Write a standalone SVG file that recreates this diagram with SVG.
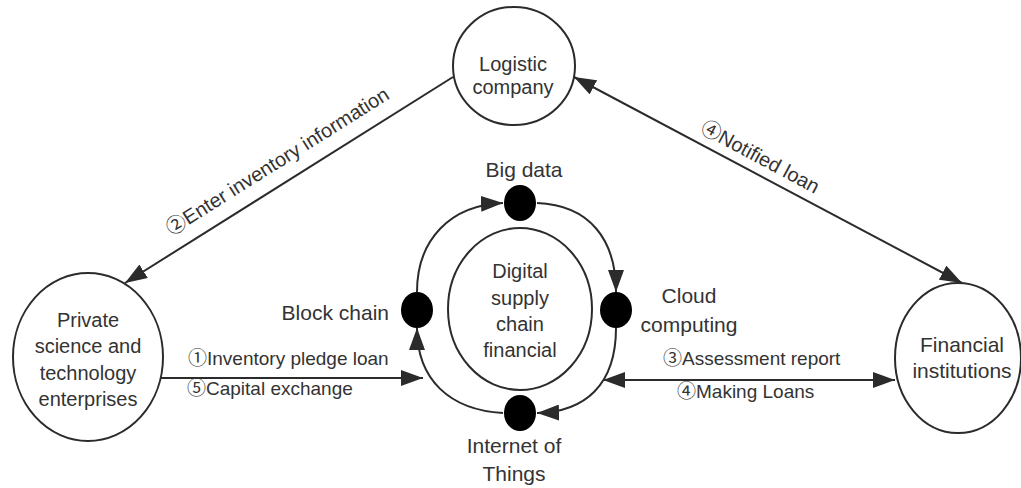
<svg xmlns="http://www.w3.org/2000/svg" width="1021" height="488" viewBox="0 0 1021 488">
<style>
.node{fill:#fff;stroke:#2b2b2b;stroke-width:2}
.dot{fill:#000}
.edge{fill:none;stroke:#2b2b2b;stroke-width:2}
text{font-family:"Liberation Sans","Noto Sans CJK SC",sans-serif;fill:#333}
.nl{font-size:20px;text-anchor:middle}
.tl{font-size:21px}
.el{font-size:19px}
.rl{font-size:20px;text-anchor:middle}
</style>
<defs>
<marker id="ah" viewBox="0 0 22 16" refX="22" refY="8" markerWidth="22" markerHeight="16" markerUnits="userSpaceOnUse" orient="auto-start-reverse">
<path d="M0,0 L22,8 L0,16 z" fill="#2b2b2b"/>
</marker>
</defs>
<rect width="1021" height="488" fill="#fff"/>
<g id="connectors">
<line class="edge" x1="453" y1="77" x2="125" y2="283" marker-end="url(#ah)"/>
<line class="edge" x1="574" y1="77" x2="962" y2="283" marker-start="url(#ah)" marker-end="url(#ah)"/>
<line class="edge" x1="161" y1="378" x2="423" y2="378" marker-end="url(#ah)"/>
<line class="edge" x1="603" y1="380" x2="895" y2="380" marker-start="url(#ah)" marker-end="url(#ah)"/>
<path class="edge" d="M417,292 C417,240 450,205 503,203" marker-end="url(#ah)"/>
<path class="edge" d="M537,203 C590,205 616,240 616,292" marker-end="url(#ah)"/>
<path class="edge" d="M616,328 C616,385 585,412 537,413" marker-end="url(#ah)"/>
<path class="edge" d="M503,413 C450,410 417,380 417,328" marker-end="url(#ah)"/>
<text class="rl" transform="translate(281,167) rotate(-32.2)">②Enter inventory information</text>
<text class="rl" transform="translate(757,163) rotate(28.15)">④Notified loan</text>
<text class="el" x="188" y="365">①Inventory pledge loan</text>
<text class="el" x="187" y="395">⑤Capital exchange</text>
<text class="el" x="663" y="365">③Assessment report</text>
<text class="el" x="677" y="398">④Making Loans</text>
</g>
<g id="logistic">
<ellipse class="node" cx="514" cy="66" rx="61" ry="59"/>
<text class="nl" x="513" y="71">Logistic</text>
<text class="nl" x="513" y="94">company</text>
</g>
<g id="enterprises">
<ellipse class="node" cx="88" cy="357" rx="75" ry="84"/>
<text class="nl" x="88" y="327">Private</text>
<text class="nl" x="88" y="353">science and</text>
<text class="nl" x="88" y="380">technology</text>
<text class="nl" x="88" y="406">enterprises</text>
</g>
<g id="financial">
<ellipse class="node" cx="958" cy="358" rx="63" ry="75"/>
<text class="nl" x="962" y="352" style="font-size:21px">Financial</text>
<text class="nl" x="962" y="378" style="font-size:21px">institutions</text>
</g>
<g id="core">
<ellipse class="node" cx="520" cy="309" rx="72" ry="81"/>
<text class="nl" x="520" y="278">Digital</text>
<text class="nl" x="520" y="305">supply</text>
<text class="nl" x="520" y="331">chain</text>
<text class="nl" x="520" y="357">financial</text>
</g>
<g id="bigdata">
<ellipse class="dot" cx="520" cy="203" rx="16" ry="18"/>
<text class="tl" x="524" y="177" text-anchor="middle">Big data</text>
</g>
<g id="cloud">
<ellipse class="dot" cx="616" cy="310" rx="16" ry="18"/>
<text class="tl" x="689" y="303" text-anchor="middle">Cloud</text>
<text class="tl" x="689" y="332" text-anchor="middle">computing</text>
</g>
<g id="iot">
<ellipse class="dot" cx="520" cy="413" rx="16" ry="18"/>
<text class="tl" x="514" y="453" text-anchor="middle">Internet of</text>
<text class="tl" x="514" y="481" text-anchor="middle">Things</text>
</g>
<g id="blockchain">
<ellipse class="dot" cx="417" cy="310" rx="16" ry="18"/>
<text class="tl" x="389" y="320" text-anchor="end">Block chain</text>
</g>
</svg>
